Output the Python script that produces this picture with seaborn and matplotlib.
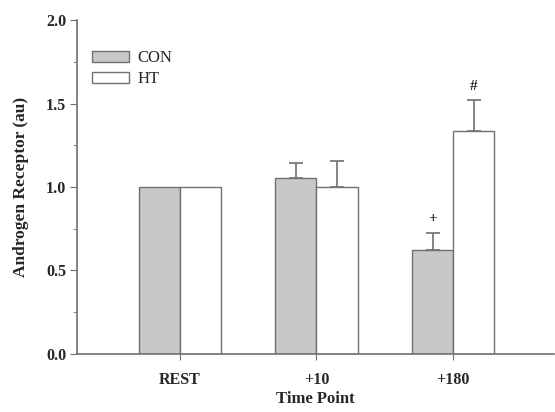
import matplotlib
matplotlib.use("Agg")
import matplotlib.pyplot as plt
from matplotlib.ticker import MultipleLocator
import seaborn as sns
import pandas as pd

time_points = ["REST", "+10", "+180"]
groups = ["CON", "HT"]
con_mean = [1.0, 1.057, 0.623]
ht_mean = [1.0, 1.003, 1.337]
con_err = [0.0, 0.085, 0.102]
ht_err = [0.0, 0.153, 0.183]
con_marks = ["", "", "+"]
ht_marks = ["", "", "#"]

df = pd.DataFrame({
    "time": time_points * 2,
    "group": ["CON"] * 3 + ["HT"] * 3,
    "value": con_mean + ht_mean,
})

sns.set_style("ticks")
plt.rcParams["font.family"] = ["Liberation Serif", "DejaVu Serif"]

edge = "#707070"
fig = plt.figure(figsize=(5.55, 4.12), dpi=100)
ax = fig.add_axes([0.139, 0.141, 0.86, 0.81])

sns.barplot(data=df, x="time", y="value", hue="group", order=time_points,
            hue_order=groups, palette={"CON": "#c8c8c8", "HT": "white"},
            width=0.6, edgecolor=edge, linewidth=1.0, errorbar=None, ax=ax)

# error bars (upper only) and significance marks
bars = ax.patches[:6]
errs = con_err + ht_err
marks = con_marks + ht_marks
for bar, e, m in zip(bars, errs, marks):
    cx = bar.get_x() + bar.get_width() / 2
    top = bar.get_height()
    if e > 0:
        ax.errorbar(cx, top, yerr=[[0], [e]], fmt="none", ecolor=edge,
                    elinewidth=1.2, capsize=5, capthick=1.2)
    if m:
        ax.text(cx, top + e + 0.045, m, ha="center", va="bottom",
                fontsize=11, fontweight="bold")

ax.set_ylim(0, 2.0)
ax.set_xlim(-0.75, 2.74)
ax.yaxis.set_major_locator(MultipleLocator(0.5))
ax.yaxis.set_minor_locator(MultipleLocator(0.25))
ax.yaxis.set_major_formatter(plt.FormatStrFormatter("%.1f"))
ax.tick_params(axis="both", which="both", direction="out", color=edge)
ax.tick_params(axis="y", which="major", length=5, labelsize=11.5, pad=3)
ax.tick_params(axis="y", which="minor", length=3)
ax.tick_params(axis="x", length=4, labelsize=11.5, pad=9)
for lbl in ax.get_xticklabels() + ax.get_yticklabels():
    lbl.set_fontweight("bold")

for s in ["top", "right"]:
    ax.spines[s].set_visible(False)
for s in ["left", "bottom"]:
    ax.spines[s].set_color(edge)
    ax.spines[s].set_linewidth(1.2)

ax.set_xlabel("Time Point", fontsize=12, fontweight="bold", labelpad=2)
ax.set_ylabel("Androgen Receptor (au)", fontsize=12.5, fontweight="bold",
              labelpad=12)

leg = ax.legend(loc="upper left", bbox_to_anchor=(0.0, 0.955), frameon=False,
                fontsize=12, handlelength=2.2, handleheight=0.6,
                handletextpad=0.5, labelspacing=0.3, title=None)

fig.savefig("out.png", dpi=100)
